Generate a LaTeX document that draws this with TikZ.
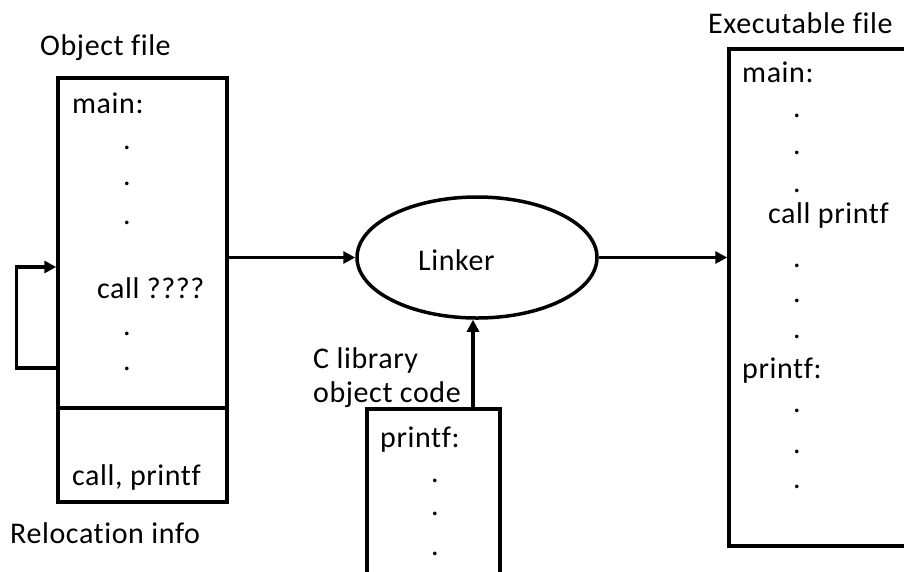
\documentclass[tikz,border=0pt]{standalone}
\usepackage{fontspec}
\setmainfont[Ligatures=NoCommon,LetterSpace=2]{Carlito}
\usepackage{tikz}
\usetikzlibrary{arrows.meta,positioning,shapes.geometric}
\tikzset{
		>={Triangle[length=12pt,width=12pt]},
		filebox/.style={
			rectangle,
			draw=black, line width=3.5pt,
			inner sep=0pt},
		linkerbox/.style={
			ellipse,
			draw=black, line width=3.5pt,
			minimum width=240pt,
			minimum height=121pt},
		line/.style={draw, line width=3.5pt, ->},
		txt/.style={anchor=base west, inner sep=0pt},
		dotnode/.style={anchor=base, inner sep=0pt},
	}
\begin{document}
\begin{tikzpicture}
				[x=1pt, y=-1pt,
				font=\fontsize{30pt}{36pt}\selectfont]
				\useasboundingbox (0,0) rectangle (904,571);
				
				%% object file
				\node[filebox, minimum width=169pt, minimum height=424pt] (obj) at (142.5,290) {};
				\draw[line width=3.5pt] (obj.west |- 0,408) -- (obj.east |- 0,408);
				\node[txt] (objlbl) at (40,55) {Object file};
				\node[txt] (objmain) at (72,113) {main:};
				\node[dotnode] (od1) at (127,149) {.};
				\node[dotnode] (od2) at (127,185) {.};
				\node[dotnode] (od3) at (127,224) {.};
				\node[txt] (objcall) at (97,298) {call ????};
				\node[dotnode] (od4) at (127,335) {.};
				\node[dotnode] (od5) at (127,370) {.};
				\node[txt] (reloc) at (72,485) {call, printf};
				\node[txt] (reloclbl) at (10,543) {Relocation info};
				
				%% linker
				\node[linkerbox] (linker) at (477,257.5) {};
				\node[txt] (linkerlbl) at (418,270) {Linker};
				
				%% C library
				\node[filebox, minimum width=133pt, minimum height=191pt] (clib) at (433.5,504.5) {};
				\node[txt] (cliblbl) at (313,368) {C library};
				\node[txt] (cliblbl2) at (313,402) {object code};
				\node[txt] (clibprintf) at (380,447) {printf:};
				\node[dotnode] (cd1) at (435,482) {.};
				\node[dotnode] (cd2) at (435,515) {.};
				\node[dotnode] (cd3) at (435,555) {.};
				
				%% executable file
				\node[filebox, minimum width=211pt, minimum height=497pt] (exe) at (834.5,297.5) {};
				\node[txt] (exelbl) at (708,33) {Executable file};
				\node[txt] (exemain) at (742,82) {main:};
				\node[dotnode] (ed1) at (797,117) {.};
				\node[dotnode] (ed2) at (797,154) {.};
				\node[dotnode] (ed3) at (797,192) {.};
				\node[txt] (execall) at (768,223) {call printf};
				\node[dotnode] (ed4) at (797,267) {.};
				\node[dotnode] (ed5) at (797,302) {.};
				\node[dotnode] (ed6) at (797,338) {.};
				\node[txt] (exeprintf) at (742,378) {printf:};
				\node[dotnode] (ed7) at (797,412) {.};
				\node[dotnode] (ed8) at (797,453) {.};
				\node[dotnode] (ed9) at (797,488) {.};
				
				%% connectors
				\draw[line] (obj.west |- 0,368) -- ++(-40,0) |- (obj.west |- 0,267);
				\draw[line] (obj.east |- linker.west) -- (linker.west);
				\draw[line] (linker.east) -- (exe.west |- linker.east);
				\draw[line] ([xshift=39.5pt]clib.north) -- ([xshift=-4pt]linker.south);
				
				\end{tikzpicture}
\end{document}
